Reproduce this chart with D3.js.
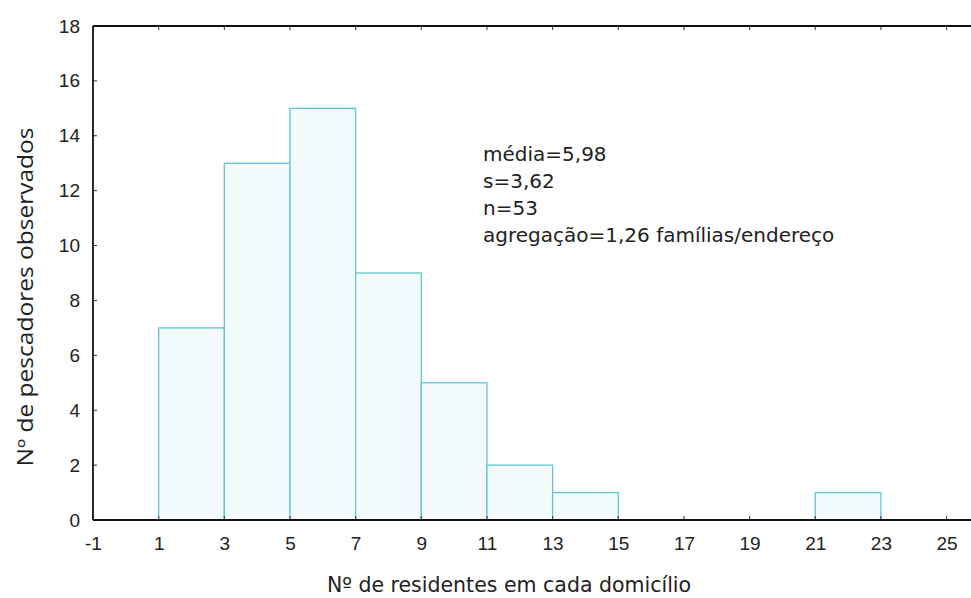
<!DOCTYPE html>
<html><head><meta charset="utf-8">
<script src="https://cdn.jsdelivr.net/npm/d3@7"></script>
<style>body{margin:0;background:#fff}svg{display:block}</style>
</head><body><svg id="c" width="971" height="598"></svg>
<script>
const binStarts = [1,3,5,7,9,11,13,15,17,19,21];
const binWidth = 2;
const counts = [7,13,15,9,5,2,1,0,0,0,1];
const xTicks = [-1,1,3,5,7,9,11,13,15,17,19,21,23,25];
const yTicks = [0,2,4,6,8,10,12,14,16,18];
const statsLines = ["média=5,98","s=3,62","n=53","agregação=1,26 famílias/endereço"];
const xTitle = "Nº de residentes em cada domicílio";
const yTitle = "Nº de pescadores observados";

const svg = d3.select("#c");
const L=93, T=26, B=520;
const x = d3.scaleLinear().domain([-1,26]).range([L, L+27*32.83]);
const y = d3.scaleLinear().domain([0,18]).range([B, T]);

// bars
svg.append("g").selectAll("rect").data(binStarts.map((s,i)=>({s,c:counts[i]})).filter(d=>d.c>0))
 .join("rect")
 .attr("x",d=>x(d.s)).attr("width",d=>x(d.s+binWidth)-x(d.s))
 .attr("y",d=>y(d.c)).attr("height",d=>y(0)-y(d.c))
 .attr("fill","#f3fbfd").attr("stroke","#62c6d6").attr("stroke-width",1.3);

const font = "'Liberation Sans', Arial, sans-serif";
const gx = svg.append("g").attr("transform",`translate(0,${B})`)
 .call(d3.axisBottom(x).tickValues(xTicks).tickSize(0).tickPadding(17).tickFormat(d=>String(d)));
gx.select(".domain").remove();
gx.selectAll("text").style("font-family",font).style("font-size","19px").attr("fill","#222");
svg.append("g").selectAll("line").data(xTicks).join("line")
 .attr("x1",d=>x(d)).attr("x2",d=>x(d)).attr("y1",B).attr("y2",B-4).attr("stroke","#333");
svg.append("g").selectAll("line").data(xTicks).join("line")
 .attr("x1",d=>x(d)).attr("x2",d=>x(d)).attr("y1",T).attr("y2",T+4).attr("stroke","#333");

const gy = svg.append("g").attr("transform",`translate(${L},0)`)
 .call(d3.axisLeft(y).tickValues(yTicks).tickSize(0).tickPadding(13));
gy.select(".domain").remove();
gy.selectAll("text").style("font-family",font).style("font-size","19px").attr("fill","#222");
svg.append("g").selectAll("line").data(yTicks).join("line")
 .attr("x1",L).attr("x2",L+4).attr("y1",d=>y(d)).attr("y2",d=>y(d)).attr("stroke","#333");

svg.append("line").attr("x1",L).attr("x2",971).attr("y1",B).attr("y2",B).attr("stroke","#111").attr("stroke-width",1.8);
svg.append("line").attr("x1",L).attr("x2",971).attr("y1",T).attr("y2",T).attr("stroke","#111").attr("stroke-width",1.8);
svg.append("line").attr("x1",L).attr("x2",L).attr("y1",T).attr("y2",B).attr("stroke","#111").attr("stroke-width",1.8);

const tf = "'DejaVu Sans', Verdana, sans-serif";
svg.append("g").selectAll("text").data(statsLines).join("text")
 .attr("x",483).attr("y",(d,i)=>161+i*27)
 .style("font-family",tf).style("font-size","20px").attr("fill","#222").text(d=>d);

svg.append("text").attr("x",509).attr("y",592).attr("text-anchor","middle")
 .style("font-family",tf).style("font-size","20.5px").attr("fill","#222").text(xTitle);
svg.append("text").attr("transform","translate(33,297) rotate(-90)").attr("text-anchor","middle")
 .style("font-family","'Open Sans', sans-serif").style("font-size","21px").attr("fill","#222")
 .attr("textLength",339).attr("lengthAdjust","spacingAndGlyphs").text(yTitle);
</script></body></html>
